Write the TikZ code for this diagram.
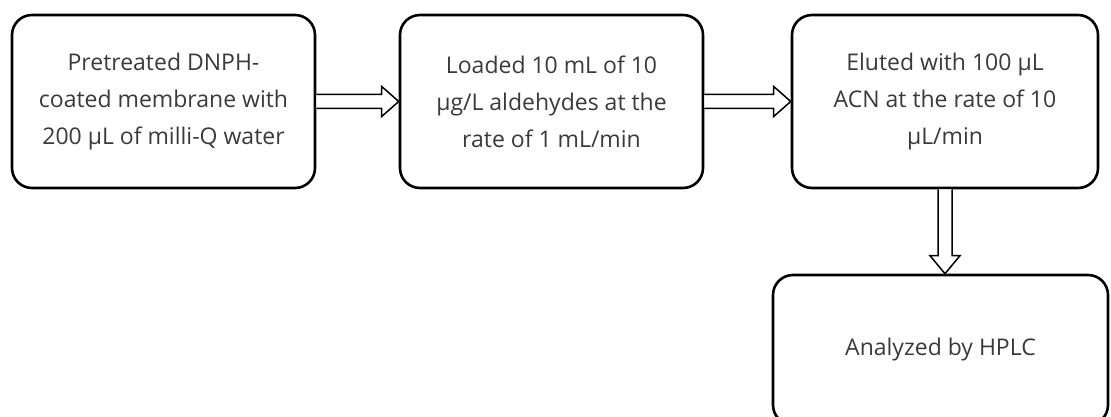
\documentclass[tikz,border=0pt]{standalone}
\usepackage{fontspec}
\setmainfont{Open Sans}
\usetikzlibrary{calc}
\definecolor{txt}{HTML}{3A3A3A}
\tikzset{
  stepbox/.style={draw=black, line width=2.6pt, rounded corners=20pt,
    align=center, text=txt, inner sep=0pt,
    font=\fontsize{23}{37}\selectfont},
  blockarrow/.style={draw=black, line width=1.5pt, line join=miter, fill=white}
}
\begin{document}
\begin{tikzpicture}[x=1pt,y=-1pt]
\useasboundingbox (0,0) rectangle (1111,417);
\clip (0,0) rectangle (1111,417);
\node[stepbox, minimum width=303pt, minimum height=173pt] (b1) at (163.5,101.5)
  {Pretreated DNPH-\\coated membrane with\\200 µL of milli-Q water};
\node[stepbox, minimum width=303pt, minimum height=173pt] (b2) at (551.5,101.5)
  {Loaded 10 mL of 10\\µg/L aldehydes at the\\rate of 1 mL/min};
\node[stepbox, minimum width=306pt, minimum height=173pt] (b3) at (945,101.5)
  {Eluted with 100 µL\\ACN at the rate of 10\\µL/min};
\node[stepbox, minimum width=335pt, minimum height=150pt] (b4) at (940.5,350)
  {Analyzed by HPLC};
% hollow block arrows between the steps
\draw[blockarrow] ($(b1.east)+(0,-7)$) -- ($(b2.west)+(-17,-7)$)
  -- ($(b2.west)+(-17,-15)$) -- (b2.west) -- ($(b2.west)+(-17,15)$)
  -- ($(b2.west)+(-17,7)$) -- ($(b1.east)+(0,7)$);
\draw[blockarrow] ($(b2.east)+(0,-7)$) -- ($(b3.west)+(-17,-7)$)
  -- ($(b3.west)+(-17,-15)$) -- (b3.west) -- ($(b3.west)+(-17,15)$)
  -- ($(b3.west)+(-17,7)$) -- ($(b2.east)+(0,7)$);
\coordinate (dn) at (b3.south |- b4.north);
\draw[blockarrow] ($(b3.south)+(-7,0)$) -- ($(dn)+(-7,-18)$)
  -- ($(dn)+(-15,-18)$) -- (dn) -- ($(dn)+(15,-18)$)
  -- ($(dn)+(7,-18)$) -- ($(b3.south)+(7,0)$);
\end{tikzpicture}
\end{document}
